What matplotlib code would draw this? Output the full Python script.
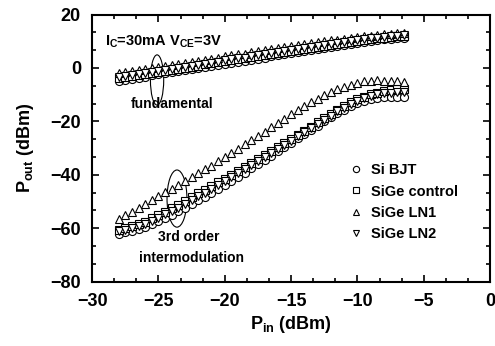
import matplotlib
matplotlib.use("Agg")
import matplotlib.pyplot as plt
from matplotlib.ticker import MultipleLocator
from matplotlib.patches import Ellipse
from matplotlib.lines import Line2D

plt.rcParams['font.family'] = ['Liberation Sans', 'DejaVu Sans']
plt.rcParams['font.weight'] = 'bold'
plt.rcParams['mathtext.fontset'] = 'custom'
plt.rcParams['mathtext.bf'] = 'Liberation Sans:bold'
plt.rcParams['mathtext.rm'] = 'Liberation Sans:bold'
plt.rcParams['mathtext.default'] = 'bf'

pin = [-28.0, -27.5, -27.0, -26.5, -26.0, -25.5, -25.0, -24.5, -24.0, -23.5,
       -23.0, -22.5, -22.0, -21.5, -21.0, -20.5, -20.0, -19.5, -19.0, -18.5,
       -18.0, -17.5, -17.0, -16.5, -16.0, -15.5, -15.0, -14.5, -14.0, -13.5,
       -13.0, -12.5, -12.0, -11.5, -11.0, -10.5, -10.0, -9.5, -9.0, -8.5,
       -8.0, -7.5, -7.0, -6.5]

# fundamental output power
fund_si_bjt = [-4.8, -4.4, -4.0, -3.6, -3.2, -2.8, -2.4, -2.0, -1.7, -1.3,
               -0.9, -0.5, -0.1, 0.3, 0.7, 1.1, 1.5, 1.9, 2.3, 2.7,
               3.1, 3.5, 3.9, 4.3, 4.7, 5.1, 5.5, 5.9, 6.3, 6.7,
               7.1, 7.5, 7.9, 8.3, 8.7, 9.1, 9.5, 9.9, 10.2, 10.5,
               10.8, 11.0, 11.2, 11.3]
fund_sige_control = [-3.8, -3.4, -3.0, -2.6, -2.2, -1.8, -1.4, -1.0, -0.7, -0.3,
                     0.1, 0.5, 0.9, 1.3, 1.7, 2.1, 2.5, 2.9, 3.3, 3.6,
                     4.0, 4.4, 4.8, 5.2, 5.6, 6.0, 6.4, 6.8, 7.1, 7.5,
                     7.9, 8.3, 8.7, 9.1, 9.4, 9.8, 10.2, 10.5, 10.9, 11.2,
                     11.4, 11.7, 11.9, 12.0]
fund_sige_ln1 = [-2.0, -1.6, -1.2, -0.8, -0.4, 0.0, 0.4, 0.8, 1.1, 1.5,
                 1.9, 2.3, 2.7, 3.1, 3.5, 3.9, 4.3, 4.7, 5.1, 5.4,
                 5.8, 6.2, 6.6, 7.0, 7.4, 7.8, 8.2, 8.5, 8.9, 9.3,
                 9.6, 10.0, 10.3, 10.6, 10.9, 11.2, 11.5, 11.8, 12.1, 12.4,
                 12.6, 12.8, 13.0, 13.1]
fund_sige_ln2 = [-3.5, -3.1, -2.7, -2.3, -1.9, -1.5, -1.1, -0.7, -0.4, 0.0,
                 0.4, 0.8, 1.2, 1.6, 2.0, 2.4, 2.8, 3.2, 3.6, 3.9,
                 4.3, 4.7, 5.1, 5.5, 5.9, 6.3, 6.7, 7.1, 7.4, 7.8,
                 8.2, 8.6, 9.0, 9.4, 9.7, 10.1, 10.5, 10.8, 11.1, 11.4,
                 11.7, 11.9, 12.1, 12.2]

# third order intermodulation output power
im3_si_bjt = [-62.0, -61.5, -61.0, -60.3, -59.5, -58.5, -57.4, -56.2, -55.0, -53.7,
              -52.4, -51.0, -49.6, -48.2, -46.8, -45.3, -43.8, -42.3, -40.8, -39.2,
              -37.6, -36.0, -34.4, -32.8, -31.2, -29.6, -28.0, -26.4, -24.8, -23.2,
              -21.6, -20.0, -18.5, -17.0, -15.6, -14.4, -13.3, -12.4, -11.7, -11.2,
              -10.9, -10.8, -10.8, -10.9]
im3_sige_control = [-60.5, -60.0, -59.3, -58.5, -57.5, -56.3, -55.0, -53.8, -52.5, -51.2,
                    -49.8, -48.4, -47.0, -45.6, -44.2, -42.8, -41.4, -40.0, -38.6, -37.1,
                    -35.6, -34.0, -32.5, -31.0, -29.5, -28.0, -26.5, -25.0, -23.6, -22.0,
                    -20.4, -18.8, -17.2, -15.7, -14.2, -12.9, -11.7, -10.7, -9.9, -9.2,
                    -8.7, -8.3, -8.0, -7.8]
im3_sige_ln1 = [-56.5, -55.2, -54.0, -52.5, -51.0, -49.3, -47.8, -46.5, -45.2, -43.8,
                -42.3, -40.9, -39.5, -38.0, -36.6, -35.0, -33.4, -31.8, -30.2, -28.6,
                -27.0, -25.4, -23.8, -22.2, -20.6, -19.0, -17.4, -15.9, -14.4, -12.9,
                -11.5, -10.2, -9.0, -7.9, -7.0, -6.2, -5.5, -5.0, -4.7, -4.6,
                -4.7, -4.8, -5.0, -5.2]
im3_sige_ln2 = [-61.0, -60.6, -60.0, -59.2, -58.3, -57.2, -56.0, -54.8, -53.6, -52.3,
                -50.9, -49.5, -48.1, -46.7, -45.3, -43.9, -42.4, -41.0, -39.5, -38.0,
                -36.5, -34.9, -33.4, -31.8, -30.3, -28.7, -27.2, -25.6, -24.1, -22.5,
                -20.9, -19.3, -17.8, -16.3, -14.9, -13.6, -12.4, -11.4, -10.6, -9.9,
                -9.5, -9.2, -9.0, -8.9]

labels = ['Si BJT', 'SiGe control', 'SiGe LN1', 'SiGe LN2']
markers = ['o', 's', '^', 'v']
fund = [fund_si_bjt, fund_sige_control, fund_sige_ln1, fund_sige_ln2]
im3 = [im3_si_bjt, im3_sige_control, im3_sige_ln1, im3_sige_ln2]

fig = plt.figure(figsize=(4.95, 3.46), dpi=100)
ax = fig.add_axes([0.186, 0.186, 0.804, 0.772])

for lab, mk, f, i in zip(labels, markers, fund, im3):
    kw = dict(linestyle='none', marker=mk, markersize=5.8, markerfacecolor='white',
              markeredgecolor='black', markeredgewidth=0.8)
    ax.plot(pin, f, **kw)
    ax.plot(pin, i, **kw)

ax.set_xlim(-30, 0)
ax.set_ylim(-80, 20)
ax.xaxis.set_major_locator(MultipleLocator(5))
ax.xaxis.set_minor_locator(MultipleLocator(5 / 3))
ax.yaxis.set_major_locator(MultipleLocator(20))
ax.yaxis.set_minor_locator(MultipleLocator(20 / 3))
ax.tick_params(which='both', direction='in', top=True, right=True, width=1.2)
ax.tick_params(which='major', length=5, labelsize=13)
ax.tick_params(axis='x', which='major', pad=8)
ax.tick_params(axis='y', which='major', pad=8)
ax.tick_params(which='minor', length=3)
for s in ax.spines.values():
    s.set_linewidth(1.5)
for t in ax.get_xticklabels() + ax.get_yticklabels():
    t.set_fontweight('bold')

ax.set_xlabel('P$_{\\mathbf{in}}$ (dBm)', fontsize=13, fontweight='bold', labelpad=3)
ax.set_ylabel('P$_{\\mathbf{out}}$ (dBm)', fontsize=13, fontweight='bold', labelpad=10)

ax.text(-29.0, 9.8, 'I$_{\\mathbf{C}}$=30mA V$_{\\mathbf{CE}}$=3V', fontsize=10.5,
        fontweight='bold', va='center', ha='left')
ax.text(-24.0, -13.5, 'fundamental', fontsize=10, fontweight='bold', ha='center', va='center')
ax.text(-22.7, -63.3, '3rd order', fontsize=10, fontweight='bold', ha='center', va='center')
ax.text(-22.5, -71.2, 'intermodulation', fontsize=10, fontweight='bold', ha='center', va='center')

ax.add_patch(Ellipse((-25.1, -4.5), 1.0, 18.8, fill=False, edgecolor='black', linewidth=0.8))
ax.add_patch(Ellipse((-23.6, -48.9), 1.5, 21.4, fill=False, edgecolor='black', linewidth=0.8))

handles = [Line2D([], [], linestyle='none', marker=m, markersize=4.5, markerfacecolor='white',
                  markeredgecolor='black', markeredgewidth=0.8) for m in markers]
leg = ax.legend(handles, labels, loc='upper left', bbox_to_anchor=(0.63, 0.465), frameon=False,
                prop={'weight': 'bold', 'size': 10.5}, handlelength=1.0, handletextpad=0.5,
                labelspacing=0.5, borderaxespad=0)

fig.savefig('out.png', dpi=100)
